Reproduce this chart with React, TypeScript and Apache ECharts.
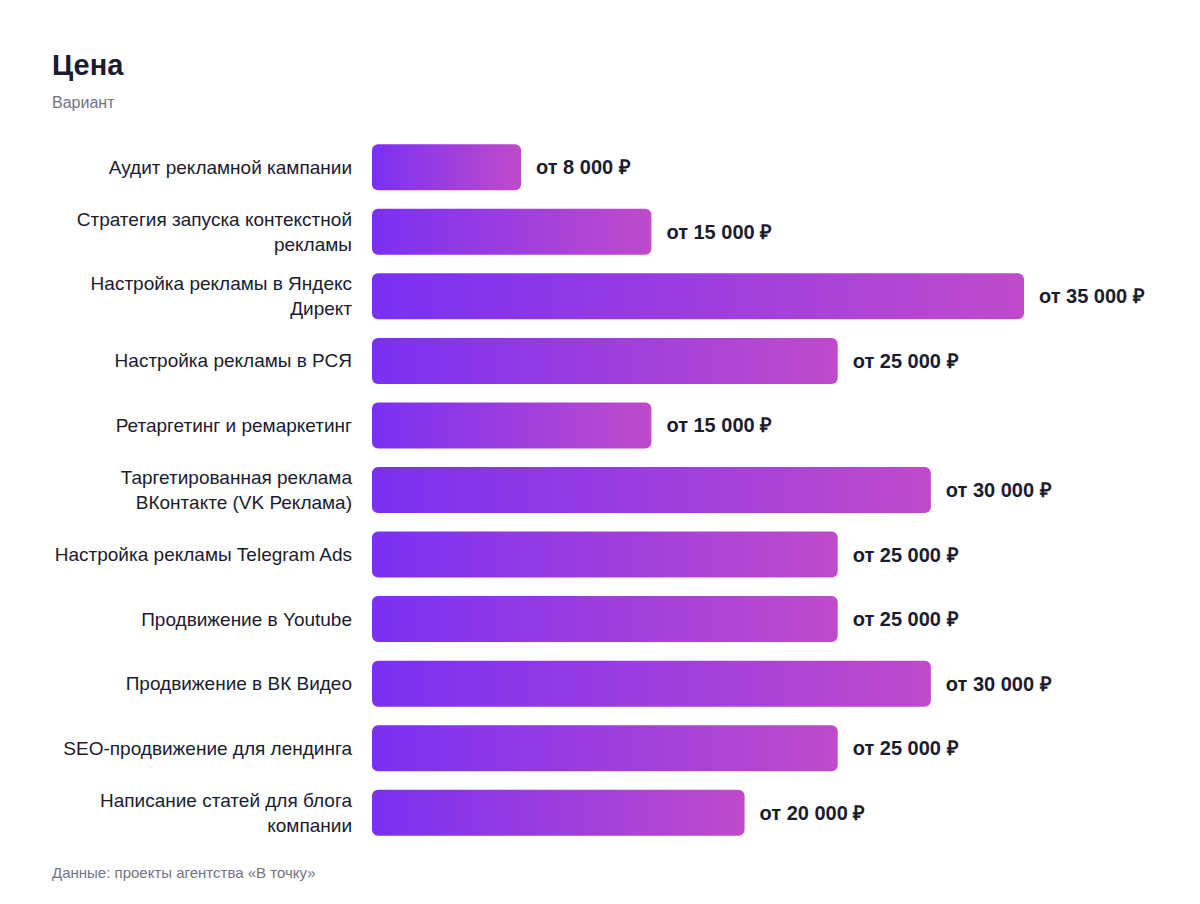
import React, { useEffect, useRef } from 'react';
import * as echarts from 'echarts';

const categories: string[] = [
  'Аудит рекламной кампании',
  'Стратегия запуска контекстной\nрекламы',
  'Настройка рекламы в Яндекс\nДирект',
  'Настройка рекламы в РСЯ',
  'Ретаргетинг и ремаркетинг',
  'Таргетированная реклама\nВКонтакте (VK Реклама)',
  'Настройка рекламы Telegram Ads',
  'Продвижение в Youtube',
  'Продвижение в ВК Видео',
  'SEO-продвижение для лендинга',
  'Написание статей для блога\nкомпании',
];

const prices: number[] = [8000, 15000, 35000, 25000, 15000, 30000, 25000, 25000, 30000, 25000, 20000];

const TEXT = '#1b1b2f';
const MUTED = '#737386';
const FONT = '"Liberation Sans", Arial, Helvetica, sans-serif';

const formatPrice = (v: number) =>
  'от ' + String(v).replace(/\B(?=(\d{3})+(?!\d))/g, ' ') + ' ₽';

const App: React.FC = () => {
  const chartRef = useRef<HTMLDivElement>(null);

  useEffect(() => {
    document.body.style.margin = '0';
    if (!chartRef.current) return;
    const chart = echarts.init(chartRef.current, undefined, { renderer: 'svg' });

    const option: echarts.EChartsOption = {
      animation: false,
      backgroundColor: '#ffffff',
      textStyle: { fontFamily: FONT },
      title: [
        {
          text: 'Цена',
          left: 52,
          top: 50,
          padding: 0,
          textStyle: { fontSize: 29, fontWeight: 'bold', color: TEXT, fontFamily: FONT },
        },
        {
          text: 'Вариант',
          left: 52,
          top: 94,
          padding: 0,
          textStyle: { fontSize: 16, fontWeight: 'normal', color: MUTED, fontFamily: FONT },
        },
        {
          text: 'Данные: проекты агентства «В точку»',
          left: 52,
          top: 865,
          padding: 0,
          textStyle: { fontSize: 15, fontWeight: 'normal', color: MUTED, fontFamily: FONT },
        },
      ],
      grid: { left: 372, right: 176, top: 135, bottom: 59 },
      xAxis: {
        type: 'value',
        min: 0,
        max: 35000,
        show: false,
      },
      yAxis: {
        type: 'category',
        inverse: true,
        data: categories,
        axisLine: { show: false },
        axisTick: { show: false },
        splitLine: { show: false },
        axisLabel: {
          margin: 20,
          fontSize: 19,
          lineHeight: 25,
          color: TEXT,
          fontFamily: FONT,
          align: 'right',
        },
      },
      series: [
        {
          type: 'bar',
          data: prices,
          barWidth: 46,
          itemStyle: {
            borderRadius: 6,
            color: new echarts.graphic.LinearGradient(0, 0, 1, 0, [
              { offset: 0, color: '#7a30f2' },
              { offset: 1, color: '#bf4bcb' },
            ]),
          },
          label: {
            show: true,
            position: 'right',
            distance: 15,
            formatter: (p: any) => formatPrice(p.value as number),
            fontSize: 20,
            fontWeight: 'bold',
            color: TEXT,
            fontFamily: FONT,
          },
        },
      ],
    };

    chart.setOption(option);
    const handleResize = () => chart.resize();
    window.addEventListener('resize', handleResize);
    return () => {
      window.removeEventListener('resize', handleResize);
      chart.dispose();
    };
  }, []);

  return <div ref={chartRef} style={{ width: 1200, height: 904 }} />;
};

export default App;
